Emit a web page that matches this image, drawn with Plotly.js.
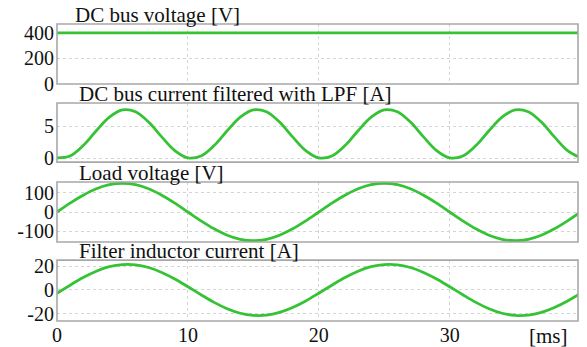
<!DOCTYPE html>
<html>
<head>
<meta charset="utf-8">
<script src="https://cdn.plot.ly/plotly-3.0.1.min.js"></script>
<style>
html,body{margin:0;padding:0;background:#fff;}
#chart{width:587px;height:347px;}
#chart text{font-family:"Liberation Serif" !important;}
</style>
</head>
<body>
<div id="chart"></div>
<script>
// time axis [ms]
const timeMs = [0,1,2,3,4,5,6,7,8,9,10,11,12,13,14,15,16,17,18,19,20,21,22,23,24,25,26,27,28,29,30,31,32,33,34,35,36,37,38,39,40];
// DC bus voltage [V]
const dcBusVoltage = [400,400,400,400,400,400,400,400,400,400,400,400,400,400,400,400,400,400,400,400,400,400,400,400,400,400,400,400,400,400,400,400,400,400,400,400,400,400,400,400,400];
// DC bus current filtered with LPF [A]
const dcBusCurrent = [0.07,0.36,1.97,4.28,6.40,7.53,7.24,5.63,3.32,1.20,0.07,0.36,1.97,4.28,6.40,7.53,7.24,5.63,3.32,1.20,0.07,0.36,1.97,4.28,6.40,7.53,7.24,5.63,3.32,1.20,0.07,0.36,1.97,4.28,6.40,7.53,7.24,5.63,3.32,1.20,0.07];
// Load voltage [V]
const loadVoltage = [0,46,87,120,141,148,141,120,87,46,0,-46,-87,-120,-141,-148,-141,-120,-87,-46,0,46,87,120,141,148,141,120,87,46,0,-46,-87,-120,-141,-148,-141,-120,-87,-46,0];
// Filter inductor current [A]
const inductorCurrent = [-2.7,4.0,10.4,15.7,19.5,21.3,21.1,18.8,14.7,9.2,2.7,-4.0,-10.4,-15.7,-19.5,-21.3,-21.1,-18.8,-14.7,-9.2,-2.7,4.0,10.4,15.7,19.5,21.3,21.1,18.8,14.7,9.2,2.7,-4.0,-10.4,-15.7,-19.5,-21.3,-21.1,-18.8,-14.7,-9.2,-2.7];

const panelTitles = ["DC bus voltage [V]", "DC bus current filtered with LPF [A]", "Load voltage [V]", "Filter inductor current [A]"];
const xTicks = [0,10,20,30];
const xTickText = ["0","10","20","30"];
const y1Ticks = [0,200,400];
const y2Ticks = [0,5];
const y3Ticks = [-100,0,100];
const y4Ticks = [-20,0,20];

const series = [dcBusVoltage, dcBusCurrent, loadVoltage, inductorCurrent];
const yNames = ["y","y2","y3","y4"];
const lineColor = "#35c335";

const traces = series.map((s,i)=>({
  x: timeMs, y: s, type: "scatter", mode: "lines",
  xaxis: "x", yaxis: yNames[i],
  line: {color: lineColor, width: 2.8, shape: "spline", smoothing: 1.0},
  hoverinfo: "skip", showlegend: false
}));

function tickFont(){ return {family: "Liberation Serif", size: 20, color: "#111"}; }
function titleFont(){ return {family: "Liberation Serif", size: 21, color: "#111"}; }
function gridStyle(){ return {showgrid: true, gridcolor: "#d4d4d4", griddash: "dot", gridwidth: 1, zeroline: false, showline: false, ticks: "", tickfont: tickFont()}; }

function yAxis(domain, range, ticks){
  return Object.assign(gridStyle(), {domain: domain, range: range, tickvals: ticks, ticktext: ticks.map(String), anchor: "x", fixedrange: true, ticklabelstandoff: 2});
}

const layout = {
  width: 587, height: 347,
  margin: {l: 57, r: 9, t: 24, b: 26, pad: 0},
  paper_bgcolor: "#ffffff", plot_bgcolor: "#ffffff",
  xaxis: Object.assign(gridStyle(), {range: [0, 39.8], tickvals: xTicks, ticktext: xTickText, anchor: "y4", ticklabelstandoff: 0}),
  yaxis: yAxis([0.798, 1.0], [0, 470], y1Ticks),
  yaxis2: yAxis([0.535, 0.734], [-0.6, 8.6], y2Ticks),
  yaxis3: yAxis([0.266, 0.468], [-155, 155], y3Ticks),
  yaxis4: yAxis([0, 0.205], [-26, 25], y4Ticks),
  shapes: yNames.map(n=>({type: "rect", xref: "x domain", yref: n + " domain", x0: 0, x1: 1, y0: 0, y1: 1, line: {color: "#a8a8a8", width: 1.6}, layer: "above"})),
  annotations: panelTitles.map((t,i)=>({
    text: t, xref: "paper", yref: yNames[i] + " domain", x: i === 0 ? 0.031 : 0.038, y: 1,
    xanchor: "left", yanchor: "bottom", showarrow: false, yshift: -5, font: titleFont()
  })).concat([{text: "[ms]", xref: "paper", yref: "paper", x: 0.985, y: 0, xanchor: "right", yanchor: "top", yshift: -1, showarrow: false, font: titleFont()}])
};

Plotly.newPlot("chart", traces, layout, {staticPlot: true, displayModeBar: false});
</script>
</body>
</html>
